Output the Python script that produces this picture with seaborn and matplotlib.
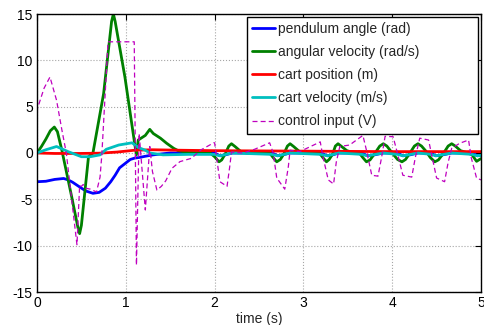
import matplotlib
matplotlib.use("Agg")
import matplotlib.pyplot as plt
import seaborn as sns

# ---- data ----
t_angle = [0, 0.1, 0.2, 0.3, 0.35, 0.4, 0.47, 0.55, 0.63, 0.7, 0.77, 0.83, 0.88, 0.93, 0.97, 1.05, 1.1, 1.16, 1.22, 1.31, 1.4, 1.5, 1.7,
           2.0, 2.06, 2.12, 2.2, 2.65, 2.71, 2.77, 2.85, 3.2, 3.27, 3.33, 3.4, 3.66, 3.72, 3.8, 3.9, 4.06, 4.12, 4.2, 4.29,
           4.44, 4.49, 4.57, 4.67, 4.9, 4.96, 5.0]
v_angle = [-3.1, -3.05, -2.85, -2.75, -2.9, -3.15, -3.6, -4.1, -4.35, -4.25, -3.8, -3.1, -2.4, -1.6, -1.3, -0.7, -0.55, -0.47, -0.35, -0.2, -0.1, 0.0, 0.0,
           0.0, -0.3, -0.2, 0.0, 0.0, -0.3, -0.2, 0.0, 0.0, -0.3, -0.2, 0.0, 0.0, -0.3, -0.2, 0.0, 0.0, -0.3, -0.2, 0.0,
           0.0, -0.3, -0.2, 0.0, 0.0, -0.3, -0.25]

t_angvel = [0, 0.05, 0.1, 0.15, 0.195, 0.23, 0.28, 0.39, 0.46, 0.48, 0.50, 0.58, 0.63, 0.75, 0.84, 0.86, 0.88, 0.99, 1.1, 1.12, 1.14,
            1.22, 1.27, 1.31, 1.39, 1.46, 1.54, 1.59, 1.7, 1.95,
            2.00, 2.05, 2.08, 2.12, 2.16, 2.19, 2.23, 2.29, 2.36,
            2.62, 2.66, 2.70, 2.74, 2.78, 2.82, 2.85, 2.89, 2.95, 3.02,
            3.18, 3.22, 3.26, 3.29, 3.33, 3.36, 3.39, 3.43, 3.49, 3.56, 3.63,
            3.67, 3.71, 3.75, 3.80, 3.86, 3.90, 3.94, 4.00, 4.06, 4.11, 4.15, 4.20, 4.25, 4.29, 4.33, 4.38,
            4.43, 4.48, 4.52, 4.58, 4.63, 4.67, 4.71, 4.77, 4.84, 4.90, 4.95, 5.0]
v_angvel = [0, 0.7, 1.5, 2.4, 2.8, 2.3, 0.3, -4.7, -8.0, -8.7, -7.8, -0.4, 0.0, 6.4, 14.2, 15.0, 14.2, 8.2, 1.0, -0.2, 1.4,
            1.9, 2.55, 2.1, 1.6, 1.05, 0.5, 0.25, 0.05, 0.0,
            -0.4, -0.95, -0.75, -0.1, 0.75, 1.0, 0.7, 0.2, 0.0,
            0.0, -0.5, -0.95, -0.7, -0.1, 0.75, 1.0, 0.7, 0.2, 0.0,
            0.0, -0.5, -0.95, -0.7, -0.1, 0.75, 1.0, 0.7, 0.25, 0.05, 0.0,
            -0.5, -0.95, -0.75, -0.1, 0.75, 1.0, 0.75, 0.0, -0.7, -0.95, -0.7, 0.0, 0.75, 1.0, 0.75, 0.2,
            -0.5, -0.95, -0.75, 0.0, 0.75, 1.0, 0.75, 0.25, 0.05, -0.2, -0.9, -0.6]

t_pos = [0, 0.2, 0.47, 0.7, 0.9, 1.1, 1.3, 1.6, 2.0, 3.0, 4.0, 5.0]
v_pos = [0.0, -0.05, -0.05, -0.02, 0.1, 0.3, 0.35, 0.3, 0.25, 0.2, 0.15, 0.15]

t_cartvel = [0, 0.1, 0.22, 0.35, 0.5, 0.6, 0.71, 0.78, 0.92, 1.07, 1.14, 1.22, 1.27, 1.42, 1.7,
             2.0, 2.06, 2.2, 2.65, 2.71, 2.85, 3.2, 3.27, 3.4, 3.66, 3.72, 3.9, 4.06, 4.12, 4.29, 4.44, 4.49, 4.67, 4.9, 4.96, 5.0]
v_cartvel = [0.0, 0.35, 0.7, 0.15, -0.4, -0.4, -0.2, 0.4, 0.86, 1.1, 0.6, 0.3, 0.0, -0.2, -0.15,
             -0.15, -0.3, 0.0, -0.15, -0.3, 0.0, -0.15, -0.3, 0.0, -0.15, -0.3, 0.0, -0.15, -0.3, 0.0, -0.15, -0.3, 0.0, -0.15, -0.3, -0.25]

t_ctrl = [0, 0.005, 0.08, 0.146, 0.22, 0.28, 0.33, 0.39, 0.45, 0.48, 0.50, 0.52, 0.55, 0.6, 0.67, 0.71, 0.73, 0.80, 1.095, 1.12,
          1.15, 1.22, 1.27, 1.30, 1.35, 1.40, 1.45, 1.52, 1.61, 1.74, 1.84, 1.99, 2.0, 2.06, 2.14, 2.17, 2.19, 2.32, 2.45, 2.62,
          2.66, 2.70, 2.79, 2.83, 2.85, 2.96, 3.19, 3.22, 3.28, 3.34, 3.37, 3.41, 3.52, 3.67, 3.71, 3.77, 3.84, 3.88, 3.92,
          4.01, 4.05, 4.12, 4.22, 4.26, 4.31, 4.41, 4.44, 4.50, 4.59, 4.63, 4.67, 4.76, 4.86, 4.89, 4.95, 5.0]
v_ctrl = [0.0, 4.8, 7.0, 8.2, 5.7, 2.5, 0.0, -5.0, -9.9, -3.5, -3.6, -3.4, -3.8, -3.9, -4.2, -2.6, -0.2, 12.0, 12.0, -12.1,
          2.1, -6.15, 0.7, -2.0, -4.0, -3.6, -3.0, -1.65, -0.93, -0.57, 0.3, 1.1, 1.1, -3.1, -3.6, -1.5, 0.1, 0.0, 0.4, 1.1,
          0.0, -2.7, -3.9, -1.5, 0.3, 0.15, 1.2, -0.4, -2.9, -3.35, -1.0, 0.7, 0.86, 1.9, 0.3, -2.4, -2.5, -0.5, 1.8,
          1.76, 0.3, -2.4, -2.6, -0.5, 1.6, 1.4, 0.0, -2.7, -3.1, -1.0, 0.5, 1.05, 1.4, -0.5, -2.7, -2.9]

labels = ["pendulum angle (rad)", "angular velocity (rad/s)", "cart position (m)",
          "cart velocity (m/s)", "control input (V)"]
x_ticks = [0, 1, 2, 3, 4, 5]
y_ticks = [-15, -10, -5, 0, 5, 10, 15]

# ---- style ----
sns.set_style("white")
plt.rcParams["font.family"] = ["Liberation Sans", "DejaVu Sans"]
plt.rcParams["font.size"] = 10
plt.rcParams["axes.unicode_minus"] = False

fig = plt.figure(figsize=(4.84, 3.25), dpi=100)
ax = fig.add_axes([37 / 484, 1 - 292 / 325, 444 / 484, 278 / 325])

series = [
    (t_angle, v_angle, (0, 0, 1), "-", 2.0),
    (t_angvel, v_angvel, (0, 0.5, 0), "-", 2.0),
    (t_pos, v_pos, (1, 0, 0), "-", 2.0),
    (t_cartvel, v_cartvel, (0, 0.75, 0.75), "-", 2.0),
    (t_ctrl, v_ctrl, (0.75, 0, 0.75), "--", 0.9),
]
for (t, v, c, ls, lw), lab in zip(series, labels):
    sns.lineplot(x=t, y=v, ax=ax, color=c, linestyle=ls, linewidth=lw,
                 label=lab, estimator=None, sort=False)

ax.lines[-1].set_dashes((4, 2.5))

ax.set_xlim(0, 5)
ax.set_ylim(-15, 15)
ax.set_xticks(x_ticks)
ax.set_yticks(y_ticks)
ax.set_xlabel("time (s)", fontsize=10, labelpad=1)
ax.tick_params(direction="in", top=True, right=True, length=4, width=0.8,
               labelsize=10, pad=3, colors="black")
ax.grid(True, linestyle=":", color="0.65", linewidth=0.8)
for s in ax.spines.values():
    s.set_color("black")
    s.set_linewidth(1.0)

x0 = (246.7 - 37) / 444
w = (478 - 246.7) / 444
y0 = (292 - 135) / 278
h = (135 - 16.7) / 278
leg = ax.legend(loc="upper left", bbox_to_anchor=(x0, y0, w, h), mode="expand", borderaxespad=0,
                fontsize=10, handlelength=1.65, handletextpad=0.2, labelspacing=0.65,
                borderpad=0.4, fancybox=False, framealpha=1, edgecolor="black")
leg.get_frame().set_linewidth(1.0)
for line in leg.get_lines():
    line.set_linewidth(2.0)
leg.get_lines()[-1].set_linewidth(0.9)

fig.savefig("out.png", dpi=100)
